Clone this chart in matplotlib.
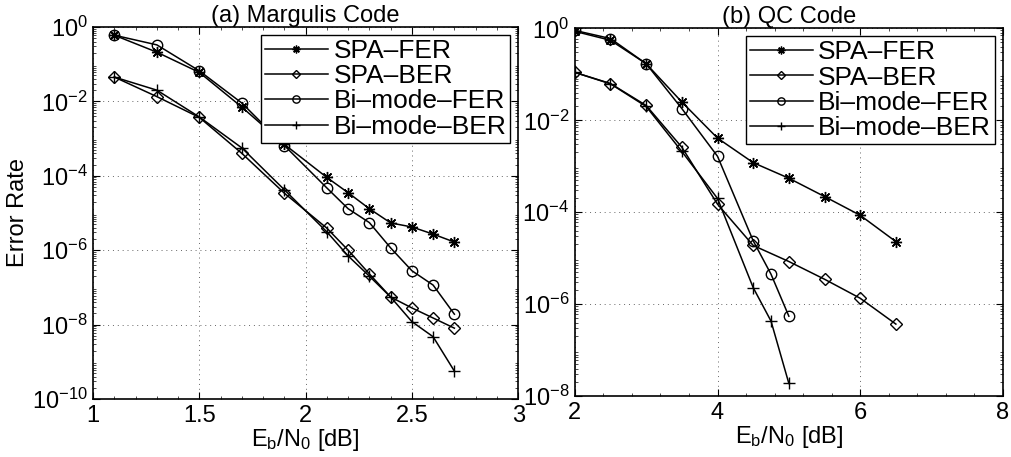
import matplotlib
matplotlib.use("Agg")
import matplotlib.pyplot as plt
from matplotlib.ticker import LogLocator, NullFormatter, AutoMinorLocator, FormatStrFormatter

plt.rcParams["font.family"] = ["Liberation Sans", "DejaVu Sans"]
plt.rcParams["mathtext.fontset"] = "custom"
plt.rcParams["mathtext.rm"] = "Liberation Sans"
plt.rcParams["mathtext.it"] = "Liberation Sans"

labels = ["SPA\u2013FER", "SPA\u2013BER", "Bi\u2013mode\u2013FER", "Bi\u2013mode\u2013BER"]
markers = [(8, 2, 0), "D", "o", "+"]
sizes = [8, 6.5, 7.5, 9]

# (a) Margulis code
snr_a = [1.1, 1.3, 1.5, 1.7, 1.9, 2.1, 2.2, 2.3, 2.4, 2.5, 2.6, 2.7]
spa_fer_a = [0.6, 0.21, 0.06, 7e-3, 7e-4, 9e-5, 3.5e-5, 1.3e-5, 5.4e-6, 4.2e-6, 2.7e-6, 1.65e-6]
spa_ber_a = [0.045, 0.0134, 3.7e-3, 4e-4, 3.4e-5, 3.9e-6, 1e-6, 2.3e-7, 5.5e-8, 2.8e-8, 1.5e-8, 8e-9]
bi_fer_a = [0.6, 0.33, 0.066, 9e-3, 6.5e-4, 4.7e-5, 1.3e-5, 5.5e-6, 1.15e-6, 2.8e-7, 1.15e-7, 1.9e-8]
bi_ber_a = [0.045, 0.02, 3.8e-3, 5.6e-4, 4.2e-5, 3.1e-6, 7e-7, 2e-7, 5.5e-8, 1.2e-8, 4.7e-9, 5.6e-10]

# (b) QC code
snr_b_spa = [2, 2.5, 3, 3.5, 4, 4.5, 5, 5.5, 6, 6.5]
spa_fer_b = [0.86, 0.55, 0.17, 0.025, 4.1e-3, 1.2e-3, 5.5e-4, 2.2e-4, 8.6e-5, 2.3e-5]
spa_ber_b = [0.11, 0.063, 0.021, 2.6e-3, 1.5e-4, 1.9e-5, 8.5e-6, 3.5e-6, 1.35e-6, 3.7e-7]
snr_b_bi = [2, 2.5, 3, 3.5, 4, 4.5, 4.75, 5]
bi_fer_b = [0.9, 0.6, 0.17, 0.018, 1.65e-3, 2.4e-5, 4.5e-6, 5.5e-7]
bi_ber_b = [0.11, 0.062, 0.02, 2.1e-3, 2e-4, 2.3e-6, 4.3e-7, 1.9e-8]

fig = plt.figure(figsize=(10.12, 4.57), dpi=100)
ax1 = fig.add_axes([0.092, 0.127, 0.420, 0.814])
ax2 = fig.add_axes([0.568, 0.133, 0.423, 0.805])


def draw(ax, series, xlim, ylim, xticks, yticks, title):
    for (x, y), lab, m, ms in zip(series, labels, markers, sizes):
        ax.semilogy(x, y, color="black", lw=1.1, marker=m, ms=ms,
                    mfc="none", mec="black", mew=1.0, label=lab)
    ax.set_xlim(*xlim)
    ax.set_ylim(*ylim)
    ax.set_xticks(xticks)
    ax.xaxis.set_major_formatter(FormatStrFormatter("%g"))
    ax.set_yticks(yticks)
    ax.yaxis.set_minor_locator(LogLocator(base=10, subs=range(2, 10), numticks=50))
    ax.yaxis.set_minor_formatter(NullFormatter())
    ax.xaxis.set_minor_locator(AutoMinorLocator(5))
    ax.grid(True, which="major", color="black", ls=(0, (1, 4)), lw=0.7, alpha=0.6)
    ax.tick_params(which="both", direction="in", top=True, right=True, labelsize=17)
    ax.tick_params(which="major", length=5, pad=4)
    ax.tick_params(which="minor", length=2.5, width=0.5)
    for s in ax.spines.values():
        s.set_linewidth(1.2)
    ax.set_title(title, fontsize=17, pad=2)
    ax.set_xlabel(r"E$_\mathrm{b}$/N$_\mathrm{0}$ [dB]", fontsize=17, labelpad=0)
    leg = ax.legend(loc="upper right", fontsize=19, frameon=True, fancybox=False,
                    edgecolor="black", framealpha=1, handlelength=2.4,
                    handletextpad=0.2, borderpad=0.15, labelspacing=0.05,
                    borderaxespad=0.3, markerscale=0.7)
    leg.get_frame().set_linewidth(1.0)


draw(ax1, [(snr_a, spa_fer_a), (snr_a, spa_ber_a), (snr_a, bi_fer_a), (snr_a, bi_ber_a)],
     (1, 3), (1e-10, 1), [1, 1.5, 2, 2.5, 3], [10.0 ** k for k in range(-10, 1, 2)],
     "(a) Margulis Code")
ax1.set_ylabel("Error Rate", fontsize=17, labelpad=2)

draw(ax2, [(snr_b_spa, spa_fer_b), (snr_b_spa, spa_ber_b), (snr_b_bi, bi_fer_b), (snr_b_bi, bi_ber_b)],
     (2, 8), (1e-8, 1), [2, 4, 6, 8], [10.0 ** k for k in range(-8, 1, 2)],
     "(b) QC Code")

fig.savefig("out.png", dpi=100)
